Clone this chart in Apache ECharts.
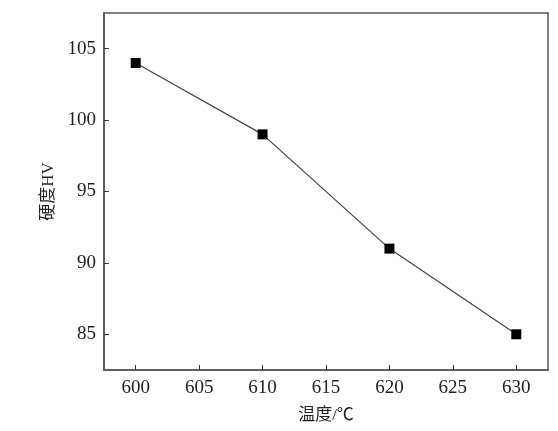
<!DOCTYPE html>
<html>
<head>
<meta charset="utf-8">
<script src="https://cdn.jsdelivr.net/npm/echarts@6/dist/echarts.min.js"></script>
<style>html,body{margin:0;padding:0;background:#fff;}#c{width:558px;height:431px;}</style>
</head>
<body>
<div id="c"></div>
<script>
const temperatures = [600, 610, 620, 630];
const hardness = [104, 99, 91, 85];
const xTicks = [600, 605, 610, 615, 620, 625, 630];
const yTicks = [85, 90, 95, 100, 105];
const xTitle = '温度/℃';
const yTitle = '硬度HV';

const chart = echarts.init(document.getElementById('c'), null, {renderer: 'canvas'});
const axisColor = '#555';
const textColor = '#222';
const serif = '"Liberation Serif", "Times New Roman", serif';
const mixed = '"Liberation Serif", "Noto Sans CJK SC", serif';

chart.setOption({
  animation: false,
  backgroundColor: '#fff',
  grid: {left: 104, right: 10, top: 13, bottom: 61, show: true, borderColor: axisColor, borderWidth: 1.5, containLabel: false},
  xAxis: {
    type: 'value', min: 597.5, max: 632.5, interval: 5,
    name: xTitle, nameLocation: 'middle', nameGap: 37,
    nameTextStyle: {fontFamily: mixed, fontSize: 17, color: textColor},
    axisLine: {show: true, onZero: false, lineStyle: {color: axisColor, width: 1.5}},
    axisTick: {show: true, inside: true, length: 5, lineStyle: {color: '#333', width: 1}, customValues: xTicks},
    minorTick: {show: true, splitNumber: 2, length: 3, lineStyle: {color: '#333', width: 1}},
    axisLabel: {fontFamily: serif, fontSize: 19, color: textColor, margin: 9, customValues: xTicks},
    splitLine: {show: false}
  },
  yAxis: {
    type: 'value', min: 82.5, max: 107.5, interval: 5,
    name: yTitle, nameLocation: 'middle', nameGap: 44,
    nameTextStyle: {fontFamily: mixed, fontSize: 17, color: textColor},
    axisLine: {show: true, onZero: false, lineStyle: {color: axisColor, width: 1.5}},
    axisTick: {show: true, inside: true, length: 5, lineStyle: {color: '#333', width: 1}, customValues: yTicks},
    minorTick: {show: true, splitNumber: 2, length: 3, lineStyle: {color: '#333', width: 1}},
    axisLabel: {fontFamily: serif, fontSize: 19, color: textColor, margin: 8, customValues: yTicks},
    splitLine: {show: false}
  },
  series: [{
    type: 'line',
    data: temperatures.map((t, i) => [t, hardness[i]]),
    symbol: 'rect', symbolSize: 10,
    itemStyle: {color: '#000'},
    lineStyle: {color: '#444', width: 1.2}
  }]
});
</script>
</body>
</html>
